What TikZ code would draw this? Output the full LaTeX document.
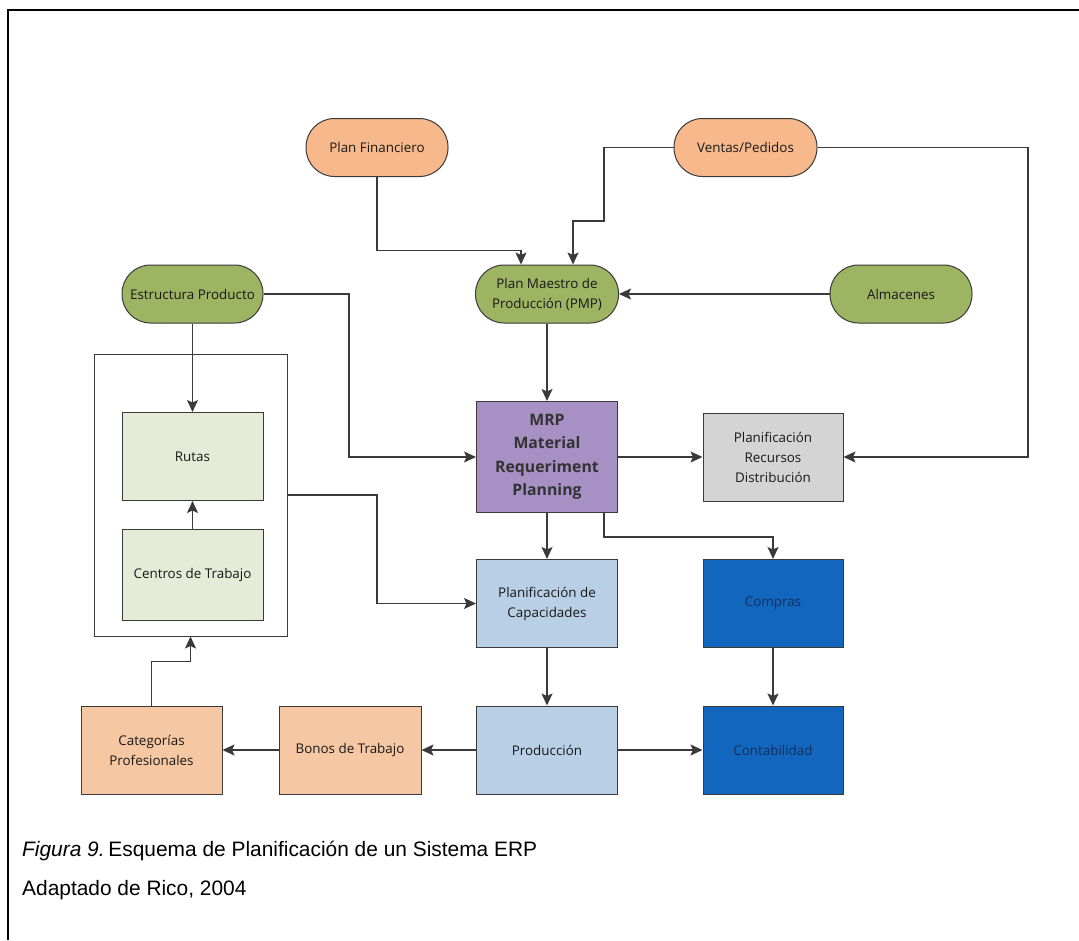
\documentclass[tikz,border=0pt]{standalone}
\usepackage{fontspec}
\setmainfont{Liberation Sans}
\newfontfamily\nodefont{Open Sans}
\usetikzlibrary{arrows.meta}
\definecolor{orangepill}{HTML}{F7B98B}
\definecolor{greenpill}{HTML}{9DB462}
\definecolor{mrpfill}{HTML}{A690C4}
\definecolor{greyfill}{HTML}{D4D4D4}
\definecolor{lgreen}{HTML}{E4EBD6}
\definecolor{lblue}{HTML}{B9CFE6}
\definecolor{dblue}{HTML}{1266BE}
\definecolor{peach}{HTML}{F5C7A2}
\definecolor{navytext}{HTML}{14305A}
\definecolor{linegrey}{HTML}{3A3A3A}
\begin{document}
\begin{tikzpicture}[x=1pt,y=-1pt,
  base/.style={draw=linegrey, line width=1pt, font=\nodefont\fontsize{13.4}{20}\selectfont,
    text=black!90, align=center, inner sep=0pt},
  pill/.style={base, rounded corners=28.5pt, minimum height=58pt},
  box/.style={base, minimum width=141pt, minimum height=88pt},
  conn/.style={draw=linegrey, line width=1.4pt, -{Stealth[length=12pt,width=11pt,inset=2.5pt]}}
]
\useasboundingbox (0,0) rectangle (1079,940);
\fill[white] (0,0) rectangle (1079,940);
\draw[line width=2pt, black] (8,940) -- (8,10) -- (1079,10);

% top pills
\node[pill, fill=orangepill, minimum width=142pt] (pf) at (377,147.5) {Plan Financiero};
\node[pill, fill=orangepill, minimum width=143pt] (vp) at (745.5,147.5) {Ventas/Pedidos};
\node[pill, fill=greenpill, minimum width=143pt] (pmp) at (547,294) {Plan Maestro de\\Producción (PMP)};
\node[pill, fill=greenpill, minimum width=142pt] (alm) at (901,294) {Almacenes};
\node[pill, fill=greenpill, minimum width=141pt] (ep) at (192.5,294) {Estructura Producto};

% group container
\node[base, fill=none, minimum width=193pt, minimum height=282pt] (grp) at (190.5,495) {};
\node[box, fill=lgreen] (rutas) at (192.5,456.5) {Rutas};
\node[box, fill=lgreen, minimum height=91pt] (centros) at (192.5,575) {Centros de Trabajo};

% centre
\node[box, fill=mrpfill, minimum height=111pt, text=black!80,
  font=\nodefont\bfseries\fontsize{15.8}{23.5}\selectfont] (mrp) at (547,457)
  {MRP\\Material\\Requeriment\\Planning};
\node[box, fill=greyfill, minimum width=140pt] (prd) at (773,457) {Planificación\\Recursos\\Distribución};
\node[box, fill=lblue] (pc) at (547,603.5) {Planificación de\\Capacidades};
\node[box, fill=dblue, minimum width=140pt, text=navytext] (compras) at (773,603.5) {Compras};
\node[box, fill=lblue] (prod) at (547,750) {Producción};
\node[box, fill=dblue, minimum width=140pt, text=navytext] (contab) at (773,750) {Contabilidad};
\node[box, fill=peach, minimum width=142pt] (bonos) at (350,750) {Bonos de Trabajo};
\node[box, fill=peach] (cat) at (151.5,750) {Categorías\\Profesionales};

% junction coordinates
\coordinate (vj) at (604,221);
\coordinate (vr) at (1028,147.5);
\coordinate (ej) at (349,294);
\coordinate (gj) at (377,495);

% connectors
\draw[conn] (pf.south) -- ++(0,73.5) -| ([xshift=-26pt]pmp.north);
\draw[conn] (vp.west) -| (vj) -| ([xshift=26pt]pmp.north);
\draw[conn] (vp.east) -- (vr) |- (prd.east);
\draw[conn] (alm.west) -- (pmp.east);
\draw[conn] (ep.east) -- (ej) |- (mrp.west);
\draw[conn] (ep.south) -- (rutas.north);
\draw[conn] (centros.north) -- (rutas.south);
\draw[conn] (grp.east) -- (gj) |- (pc.west);
\draw[conn] (pmp.south) -- (mrp.north);
\draw[conn] (mrp.east) -- (prd.west);
\draw[conn] (mrp.south) -- (pc.north);
\draw[conn] ([xshift=57pt]mrp.south) -- ++(0,24) -| (compras.north);
\draw[conn] (pc.south) -- (prod.north);
\draw[conn] (compras.south) -- (contab.north);
\draw[conn] (prod.east) -- (contab.west);
\draw[conn] (prod.west) -- (bonos.east);
\draw[conn] (bonos.west) -- (cat.east);
\draw[conn] (cat.north) -- ++(0,-44) -| (grp.south);

% caption
\node[anchor=base west, inner sep=0pt, font=\fontsize{20.9}{26}\selectfont] (cap1) at (22,856)
  {\textit{Figura 9.}\kern-2pt\ Esquema de Planificación de un Sistema ERP};
\node[anchor=base west, inner sep=0pt, font=\fontsize{20.9}{26}\selectfont] (cap2) at (22,895)
  {Adaptado de Rico, 2004};
\end{tikzpicture}
\end{document}
